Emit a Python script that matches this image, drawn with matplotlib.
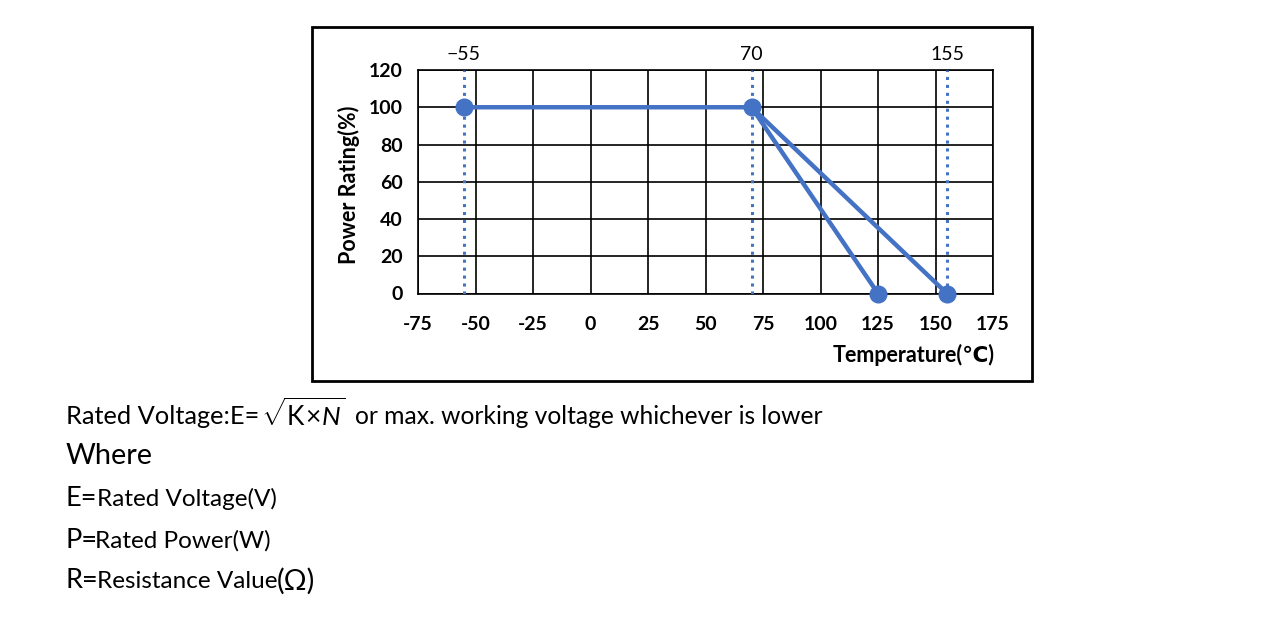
import matplotlib
matplotlib.use("Agg")
import matplotlib.pyplot as plt
from matplotlib.patches import Rectangle

plt.rcParams['font.family'] = ['Lato', 'DejaVu Sans']
plt.rcParams['mathtext.fontset'] = 'custom'
plt.rcParams['mathtext.rm'] = 'Lato'
plt.rcParams['mathtext.it'] = 'Lato:italic'

# Data
curve1_temp = [-55, 70, 125]
curve1_power = [100, 100, 0]
curve2_temp = [70, 155]
curve2_power = [100, 0]
marker_temp = [-55, 70, 125, 155]
marker_power = [100, 100, 0, 0]
ref_temps = [-55, 70, 155]
ref_labels = ["\u221255", "70", "155"]
x_ticks = [-75, -50, -25, 0, 25, 50, 75, 100, 125, 150, 175]
y_ticks = [0, 20, 40, 60, 80, 100, 120]

BLUE = "#4472C4"
W, H = 1280, 624

fig = plt.figure(figsize=(12.8, 6.24), dpi=100)
fig.patch.set_facecolor("white")

# Outer box
fig.add_artist(Rectangle((312 / W, 1 - 381 / H), (1032 - 312) / W, (381 - 27) / H,
                         transform=fig.transFigure, fill=False, edgecolor="black", linewidth=2.0))

ax = fig.add_axes([418 / W, 1 - 293.5 / H, 575 / W, 223.5 / H])
ax.set_xlim(-75, 175)
ax.set_ylim(0, 120)
ax.set_xticks(x_ticks)
ax.set_yticks(y_ticks)
ax.set_xticklabels([str(v) for v in x_ticks], fontweight="bold", fontsize=14)
ax.set_yticklabels([str(v) for v in y_ticks], fontweight="bold", fontsize=14)
ax.tick_params(axis="both", length=0)
ax.tick_params(axis="x", pad=16)
ax.tick_params(axis="y", pad=11)
ax.grid(True, color="black", linewidth=1.2)
ax.set_axisbelow(True)
for s in ax.spines.values():
    s.set_color("black")
    s.set_linewidth(1.2)

for t in ref_temps:
    ax.axvline(t, color=BLUE, linestyle=(0, (1, 1.6)), linewidth=2.2, zorder=3)

ax.plot(curve1_temp, curve1_power, color=BLUE, linewidth=3.2, zorder=4, clip_on=False)
ax.plot(curve2_temp, curve2_power, color=BLUE, linewidth=3.2, zorder=4, clip_on=False)
ax.plot(marker_temp, marker_power, linestyle="none", marker="o", markersize=12,
        color=BLUE, zorder=5, clip_on=False)

for t, lab in zip(ref_temps, ref_labels):
    ax.text(t, 1.07, lab, transform=ax.get_xaxis_transform(), ha="center", va="center",
            fontsize=14)

fig.text(349 / W, 1 - 185 / H, "Power Rating(%)", rotation=90, ha="center", va="center",
         fontweight="bold", fontsize=15.5)
fig.text(995 / W, 1 - 355 / H, "Temperature(\u2103)", ha="right", va="center",
         fontweight="bold", fontsize=15.5)

# Bottom notes
fig.text(66 / W, 1 - 416 / H, "Rated Voltage:E=", ha="left", va="center", fontsize=18.3)
fig.text(261 / W, 1 - 415 / H, r"$\sqrt{\mathrm{K}\!\times\!N}$", ha="left", va="center", fontsize=19)
fig.text(355 / W, 1 - 416 / H, "or max. working voltage whichever is lower", ha="left",
         va="center", fontsize=17.7)
fig.text(66 / W, 1 - 456 / H, "Where", ha="left", va="center", fontsize=20.8)
fig.text(66 / W, 1 - 498 / H, "E=", ha="left", va="center", fontsize=19.5)
fig.text(97 / W, 1 - 499 / H, "Rated Voltage(V)", ha="left", va="center", fontsize=17.5)
fig.text(66 / W, 1 - 540 / H, "P=", ha="left", va="center", fontsize=19.5)
fig.text(95 / W, 1 - 541 / H, "Rated Power(W)", ha="left", va="center", fontsize=17.5)
fig.text(66 / W, 1 - 581 / H, "R=", ha="left", va="center", fontsize=19.5)
fig.text(97 / W, 1 - 582 / H, "Resistance Value", ha="left", va="center", fontsize=17.5)
fig.text(277 / W, 1 - 581 / H, "(\u03a9)", ha="left", va="center", fontsize=20.5)

fig.savefig("out.png", dpi=100)
